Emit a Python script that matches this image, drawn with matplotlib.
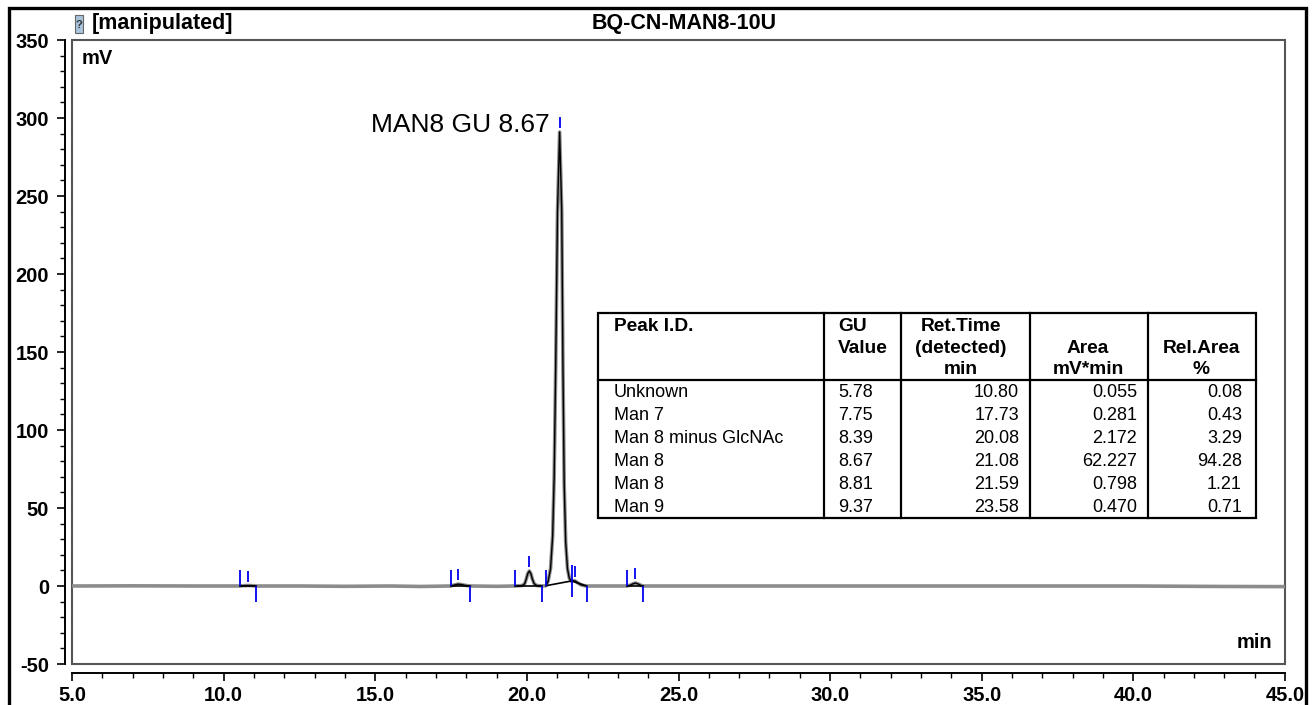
import numpy as np
import matplotlib.pyplot as plt
from matplotlib.patches import Rectangle

plt.rcParams['font.family'] = ['Liberation Sans', 'DejaVu Sans']
plt.rcParams['axes.unicode_minus'] = False

# chromatogram trace (min, mV)
trace_t = [5.0, 7.0, 9.0, 10.54, 10.65, 10.8, 10.95, 11.06, 12.5, 14.0, 15.5, 16.5,
           17.49, 17.6, 17.73, 17.85, 18.0, 18.14, 19.0, 19.61, 19.85, 19.93, 19.98,
           20.03, 20.08, 20.13, 20.18, 20.24, 20.32, 20.50, 20.63, 20.70, 20.78, 20.85,
           20.90, 20.95, 21.01, 21.08, 21.15, 21.19, 21.23, 21.28, 21.34, 21.40, 21.46,
           21.53, 21.59, 21.68, 21.78, 21.88, 21.97, 22.5, 23.30, 23.42, 23.50, 23.58,
           23.68, 23.76, 23.84, 25.0, 28.0, 32.0, 36.0, 40.0, 43.0, 45.0]
trace_mv = [0.0, 0.1, 0.0, 0.0, 0.2, 0.3, 0.2, 0.0, 0.0, -0.2, 0.0, -0.3,
            0.0, 0.6, 1.2, 0.9, 0.3, 0.0, -0.2, 0.0, 0.3, 1.5, 4.5,
            8.0, 9.6, 8.0, 4.5, 1.5, 0.3, 0.0, 0.2, 3.0, 11.0, 32.0,
            70.0, 140.0, 240.0, 291.0, 240.0, 140.0, 66.0, 28.0, 11.0, 5.0, 3.2,
            3.4, 3.2, 2.0, 0.8, 0.3, 0.0, 0.0, 0.0, 0.6, 1.4, 1.9,
            1.2, 0.4, 0.0, 0.0, 0.0, 0.0, 0.0, 0.0, -0.3, -0.4]

# peak table
peak_id = ["Unknown", "Man 7", "Man 8 minus GlcNAc", "Man 8", "Man 8", "Man 9"]
gu_value = ["5.78", "7.75", "8.39", "8.67", "8.81", "9.37"]
ret_time = [10.80, 17.73, 20.08, 21.08, 21.59, 23.58]
area = ["0.055", "0.281", "2.172", "62.227", "0.798", "0.470"]
rel_area = ["0.08", "0.43", "3.29", "94.28", "1.21", "0.71"]

# integration start / end marks (min)
peak_start = [10.54, 17.49, 19.61, 20.63, 21.48, 23.30]
peak_end = [11.06, 18.14, 20.50, 21.48, 21.97, 23.84]

fig = plt.figure(figsize=(13.12, 7.05), dpi=100)
ax = fig.add_axes([72 / 1312, 41 / 705, 1213 / 1312, 624 / 705])
ax.set_xlim(5, 45)
ax.set_ylim(-50, 350)

t = np.array(trace_t)
mv = np.array(trace_mv)

# trace: grey line, black where integrated
ax.plot(t, mv, color='#8c8c8c', lw=2.6, solid_joinstyle='round', zorder=2)
for s, e in zip(peak_start, peak_end):
    m = (t >= s) & (t <= e)
    ax.plot(t[m], mv[m], color='black', lw=1.0, zorder=3)
    ax.plot([s, e], [np.interp(s, t, mv), np.interp(e, t, mv)], color='black', lw=1.2, zorder=3)

# blue peak marks
blue = '#0000ee'
for s in peak_start:
    y0 = np.interp(s, t, mv)
    ax.vlines(s, y0, y0 + 10, color=blue, lw=1.3, zorder=4)
for e in peak_end:
    y0 = np.interp(e, t, mv)
    ax.vlines(e, y0 - 10, y0, color=blue, lw=1.3, zorder=4)
for rt in ret_time:
    ya = np.interp(rt, t, mv)
    ax.vlines(rt, ya + 2.5, ya + 9.5, color=blue, lw=1.3, zorder=4)

apex_main = np.interp(21.08, t, mv)
ax.annotate("MAN8 GU 8.67", xy=(21.08, apex_main), xytext=(-7, 5),
            textcoords='offset points', ha='right', va='center', fontsize=19)

# axes styling
for side in ['top', 'right']:
    ax.spines[side].set_visible(False)
ax.spines['left'].set_position(('outward', 5))
ax.spines['bottom'].set_position(('outward', 6.5))
for side in ['left', 'bottom']:
    ax.spines[side].set_linewidth(1.4)
ax.add_patch(Rectangle((0, 0), 1, 1, transform=ax.transAxes, fill=False,
                       ec='#555555', lw=1.5, clip_on=False))

ax.set_xticks(np.arange(5, 46, 5))
ax.set_xticklabels([f"{v:.1f}" for v in np.arange(5, 46, 5)])
ax.set_xticks(np.arange(5, 46, 1), minor=True)
ax.set_yticks(np.arange(-50, 351, 50))
ax.set_yticks(np.arange(-50, 351, 10), minor=True)
ax.tick_params(which='major', length=6, width=1.2, labelsize=14.5)
ax.tick_params(axis='y', which='major', pad=5.5)
ax.tick_params(axis='x', which='major', pad=3)
ax.tick_params(which='minor', length=3.5, width=1.0)
for lab in ax.get_xticklabels() + ax.get_yticklabels():
    lab.set_fontweight('bold')

ax.text(0.0082, 0.9696, "mV", transform=ax.transAxes, fontsize=14.5,
        fontweight='bold', ha='left', va='center')
ax.text(0.9893, 0.0337, "min", transform=ax.transAxes, fontsize=14.5,
        fontweight='bold', ha='right', va='center')

# peak table
def fx(px):
    return (px - 72) / 1213

def fy(py):
    return (664 - py) / 624

tb = dict(transform=ax.transAxes, color='black', lw=1.6, clip_on=False, zorder=5)
ax.add_patch(Rectangle((fx(598), fy(518)), fx(1256) - fx(598), fy(313) - fy(518),
                       transform=ax.transAxes, fc='white', ec='black', lw=1.6, zorder=4))
ax.plot([fx(598), fx(1256)], [fy(380), fy(380)], **tb)
for cx in [824, 901, 1030, 1148]:
    ax.plot([fx(cx), fx(cx)], [fy(313), fy(518)], **tb)

hdr_y = [fy(326), fy(348), fy(369)]
hkw = dict(transform=ax.transAxes, fontsize=13.8, fontweight='bold', va='center', zorder=6)
ax.text(fx(614), hdr_y[0], "Peak I.D.", ha='left', **hkw)
ax.text(fx(838), hdr_y[0], "GU", ha='left', **hkw)
ax.text(fx(838), hdr_y[1], "Value", ha='left', **hkw)
for i, s in enumerate(["Ret.Time", "(detected)", "min"]):
    ax.text(fx(961), hdr_y[i], s, ha='center', **hkw)
ax.text(fx(1088), hdr_y[1], "Area", ha='center', **hkw)
ax.text(fx(1088), hdr_y[2], "mV*min", ha='center', **hkw)
ax.text(fx(1201), hdr_y[1], "Rel.Area", ha='center', **hkw)
ax.text(fx(1201), hdr_y[2], "%", ha='center', **hkw)

dkw = dict(transform=ax.transAxes, fontsize=13, va='center', zorder=6)
for i in range(len(peak_id)):
    y = fy(392 + 23 * i)
    ax.text(fx(614), y, peak_id[i], ha='left', **dkw)
    ax.text(fx(838), y, gu_value[i], ha='left', **dkw)
    ax.text(fx(1019), y, f"{ret_time[i]:.2f}", ha='right', **dkw)
    ax.text(fx(1137), y, area[i], ha='right', **dkw)
    ax.text(fx(1242), y, rel_area[i], ha='right', **dkw)

# header strip
fig.text(92 / 1312, 1 - 24 / 705, "[manipulated]", fontsize=15.5, fontweight='bold',
         ha='left', va='center')
fig.text(684 / 1312, 1 - 24 / 705, "BQ-CN-MAN8-10U", fontsize=15.5, fontweight='bold',
         ha='center', va='center')
fig.patches.append(Rectangle((75 / 1312, 1 - 33 / 705), 8 / 1312, 18 / 705,
                             transform=fig.transFigure, fc='#a9c4dd', ec='#666666', lw=0.8))
fig.text(79 / 1312, 1 - 25 / 705, "?", fontsize=8, fontweight='bold', color='#333333',
         ha='center', va='center')

# outer frame
fig.patches.append(Rectangle((9 / 1312, -0.05), 1297 / 1312, 1.05 - 8 / 705,
                             transform=fig.transFigure, fill=False, ec='black', lw=2.4))

fig.savefig("out.png", dpi=100)
